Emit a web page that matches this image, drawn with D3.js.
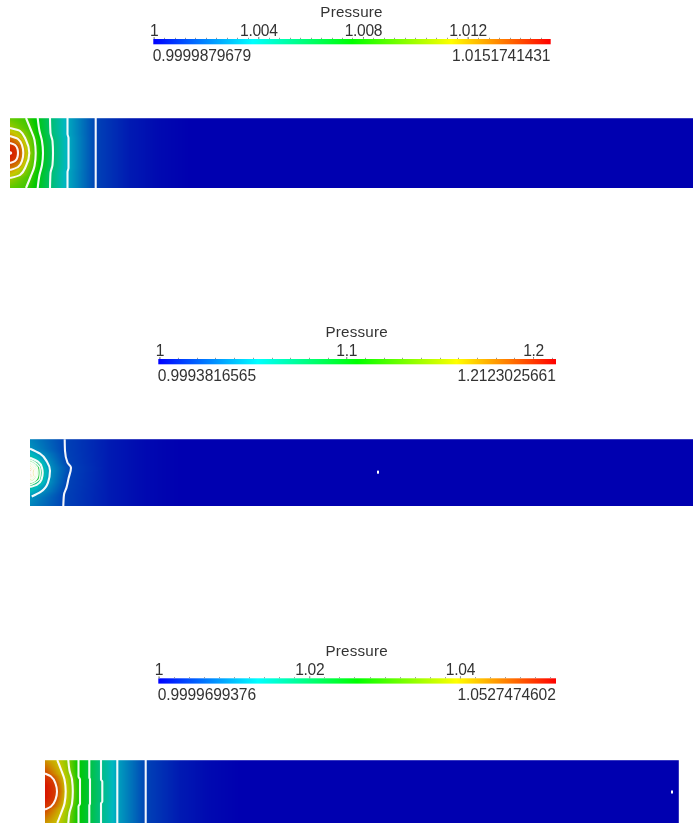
<!DOCTYPE html>
<html><head><meta charset="utf-8">
<script src="https://cdn.jsdelivr.net/npm/d3@7"></script>
<style>html,body{margin:0;padding:0;background:#fff;overflow:hidden}svg{display:block;filter:blur(0.4px)}</style>
</head><body><svg id="c" width="693" height="823"></svg>
<script>
// Legend values
const legendTitle = "Pressure";
const minValues = [0.9999879679, 0.9993816565, 0.9999699376];
const maxValues = [1.0151741431, 1.2123025661, 1.0527474602];
const minLabels = ["0.9999879679", "0.9993816565", "0.9999699376"];
const maxLabels = ["1.0151741431", "1.2123025661", "1.0527474602"];
const majorTicks = [[1, 1.004, 1.008, 1.012], [1, 1.1, 1.2], [1, 1.02, 1.04]];
const minorStep = [0.0004, 0.01, 0.002];
const tickFormats = [".3f", ".1f", ".2f"];

// Colour map positions (normalised pressure)
const colorStops = [0, 0.25, 0.5, 0.75, 1];
const legendColors = ["#0000ff", "#00ffff", "#00ff00", "#ffff00", "#ff0000"];
const fieldColors = ["#0000b0", "#00b8c0", "#00c800", "#c8c800", "#d81400"];

// Field extents, in lengths along the channel
const lengths = [68.3, 66.3, 63.4];
const halfHeights = [3.5, 3.35, 3.15];
const tailStops = [[[12,0.035],[15,0.012],[18,0]], [[8,0.035],[11.5,0.012],[15,0]], [[13.5,0.035],[16.5,0.012],[19.5,0]]];

// Isolines: normalised level, then [distance, height] points
const levels1 = [0.09, 0.23, 0.36, 0.47, 0.58, 0.7, 0.83, 0.95, 0.99];
const lines1 = [
  [[8.57,-3.5],[8.57,3.5]],
  [[5.75,-3.5],[5.75,-1.9],[5.85,-1.5],[5.85,1.5],[5.75,1.9],[5.75,3.5]],
  [[4.0,-3.5],[4.05,-2],[4.25,-1.2],[4.3,0],[4.25,1.2],[4.05,2],[4.0,3.5]],
  [[2.77,-3.5],[2.95,-2.2],[3.2,-1.2],[3.3,0],[3.2,1.2],[2.95,2.2],[2.77,3.5]],
  [[1.6,-3.5],[2.05,-2.4],[2.45,-1.3],[2.57,0],[2.45,1.3],[2.05,2.4],[1.6,3.5]],
  [[0,-2.5],[1.0,-2.2],[1.6,-1.3],[1.93,0],[1.6,1.3],[1.0,2.2],[0,2.5]],
  [[0,-1.7],[0.8,-1.4],[1.2,-0.8],[1.33,0],[1.2,0.8],[0.8,1.4],[0,1.7]],
  [[0,-1.0],[0.5,-0.8],[0.75,-0.4],[0.8,0],[0.75,0.4],[0.5,0.8],[0,1.0]],
  [[0,-0.12],[0.12,0],[0,0.12]]
];
const edge1 = [[-3.5,0.62],[-2.5,0.7],[-1.7,0.83],[-1.0,0.95],[-0.12,0.99],[0,1],[0.12,0.99],[1.0,0.95],[1.7,0.83],[2.5,0.7],[3.5,0.62]];

const levels2 = [0.09, 0.2, 0.3, 0.42, 0.5, 0.58, 0.66, 0.74, 0.8, 0.86, 0.92];
const lines2 = [
  [[3.47,-3.35],[3.5,-2.2],[3.75,-1.0],[4.1,-0.5],[3.85,0.6],[3.65,1.5],[3.4,2.2],[3.33,3.35]],
  [[0,-2.4],[1.0,-1.9],[1.7,-1.1],[2.0,-0.2],[1.8,1.0],[1.1,1.9],[0.17,2.4]],
  [[0,-1.5],[0.8,-1.1],[1.2,-0.5],[1.27,0],[1.15,0.7],[0.7,1.2],[0,1.45]],
  [[0,-1.3],[0.65,-0.9],[1.0,-0.4],[1.02,0],[0.95,0.6],[0.5,1.0],[0,1.25]],
  [[0,-1.1],[0.5,-0.8],[0.78,-0.3],[0.8,0.1],[0.72,0.5],[0.4,0.88],[0,1.05]],
  [[0,-1.0],[0.42,-0.7],[0.68,-0.2],[0.68,0.2],[0.45,0.75],[0,0.95]],
  [[0,-0.85],[0.36,-0.6],[0.55,-0.2],[0.55,0.2],[0.36,0.6],[0,0.8]],
  [[0,-0.7],[0.28,-0.5],[0.44,-0.15],[0.44,0.15],[0.28,0.5],[0,0.65]],
  [[0,-0.55],[0.2,-0.4],[0.3,0],[0.2,0.4],[0,0.55]],
  [[0,-0.4],[0.12,-0.25],[0.18,0],[0.12,0.25],[0,0.4]],
  [[0,-0.2],[0.08,0],[0,0.2]]
];
const edge2 = [[-3.35,0.18],[-2.4,0.2],[-1.5,0.3],[-1.0,0.58],[-0.55,0.8],[0,1],[0.55,0.8],[0.95,0.58],[1.45,0.3],[2.4,0.2],[3.35,0.18]];

const levels3 = [0.09, 0.22, 0.33, 0.42, 0.5, 0.66, 0.76, 0.94];
const lines3 = [
  [[10.07,-3.15],[10.07,3.15]],
  [[7.23,-3.15],[7.23,3.15]],
  [[5.6,-3.15],[5.6,-1.2],[5.73,-1.0],[5.73,1.0],[5.6,1.2],[5.6,3.15]],
  [[4.43,-3.15],[4.43,-1.4],[4.5,-1.2],[4.5,1.2],[4.43,1.4],[4.43,3.15]],
  [[3.35,-3.15],[3.35,-1.5],[3.5,-1.2],[3.5,1.2],[3.35,1.5],[3.35,3.15]],
  [[2.33,-3.15],[2.45,-2.1],[2.7,-1.2],[2.78,0],[2.7,1.2],[2.45,2.1],[2.33,3.15]],
  [[1.23,-3.15],[1.6,-2.2],[1.95,-1.2],[2.07,0],[1.95,1.2],[1.6,2.2],[1.23,3.15]],
  [[0,-1.8],[0.6,-1.5],[1.05,-0.8],[1.2,0],[1.05,0.8],[0.6,1.5],[0,1.8]]
];
const edge3 = [[-3.15,0.82],[-1.8,0.94],[-0.6,1],[0.6,1],[1.8,0.94],[3.15,0.82]];

// Isolated single-cell peaks: [distance, height]
const specks = [[], [[34.8,-0.05]], [[62.7,0.05]]];

const allLevels = [levels1, levels2, levels3];
const allLines = [lines1, lines2, lines3];
const allEdges = [edge1, edge2, edge3];

// Layout
const legendX = [[153.3,550.7],[158.3,556],[158.3,556]];
const legendBarY = [39,359,678.3];
const barH = 5.3;
const fieldX = [[10,693],[30,693],[45,679]];
const fieldY = [[118,188],[439.3,506],[760,823]];
const font = "'Liberation Sans', Arial, sans-serif";
const textColor = "#333";

const svg = d3.select("#c");
const defs = svg.append("defs");
const legendColor = d3.scaleLinear().domain(colorStops).range(legendColors);
const fieldColor = d3.scaleLinear().domain(colorStops).range(fieldColors).clamp(true);

defs.append("linearGradient").attr("id","lut").selectAll("stop").data(colorStops).join("stop")
  .attr("offset",d=>d).attr("stop-color",d=>legendColor(d));

minValues.forEach((mn,i)=>{
  const g = svg.append("g");
  const x = d3.scaleLinear().domain([mn,maxValues[i]]).range(legendX[i]);
  const by = legendBarY[i];
  g.append("rect").attr("x",legendX[i][0]).attr("y",by).attr("width",legendX[i][1]-legendX[i][0]).attr("height",barH).attr("fill","url(#lut)");
  g.append("text").attr("x",(legendX[i][0]+legendX[i][1])/2-0.5).attr("y",by-22.3).attr("text-anchor","middle")
    .attr("font-family",font).attr("font-size",15.2).attr("fill",textColor).attr("letter-spacing",0.2).text(legendTitle);
  const major = d3.axisTop(x).tickValues(majorTicks[i]).tickSize(2).tickPadding(1.3).tickFormat(d=>d===1?"1":d3.format(tickFormats[i])(d));
  const ag = g.append("g").attr("transform",`translate(0,${by})`).call(major);
  ag.select(".domain").remove();
  ag.selectAll("line").attr("stroke","#777");
  ag.selectAll("text").attr("font-family",font).attr("font-size",15.6).attr("fill",textColor).style("letter-spacing","-0.3px");
  const k0 = Math.ceil((mn-1)/minorStep[i]), k1 = Math.floor((maxValues[i]-1)/minorStep[i]);
  const minor = d3.range(k0,k1+1).map(k=>1+k*minorStep[i]);
  g.selectAll(".minor").data(minor).join("rect").attr("class","minor")
    .attr("x",d=>Math.round(x(d))).attr("y",by-1.2).attr("width",1).attr("height",1.2).attr("fill","#999");
  g.append("text").attr("x",legendX[i][0]-0.6).attr("y",by+22).attr("font-family",font).attr("font-size",15.6).attr("fill",textColor).style("letter-spacing","-0.12px").text(minLabels[i]);
  g.append("text").attr("x",legendX[i][1]-0.3).attr("y",by+22).attr("text-anchor","end").attr("font-family",font).attr("font-size",15.6).attr("fill",textColor).style("letter-spacing","-0.12px").text(maxLabels[i]);
});

allLines.forEach((lines,i)=>{
  const g = svg.append("g");
  const L = lengths[i], H = halfHeights[i];
  const x = d3.scaleLinear().domain([0,L]).range(fieldX[i]);
  const y = d3.scaleLinear().domain([-H,H]).range(fieldY[i]);
  const edge = d3.scaleLinear().domain(allEdges[i].map(d=>d[0])).range(allEdges[i].map(d=>d[1])).clamp(true);
  const crossers = lines.map((pts,j)=>({t:allLevels[i][j],
    lo:pts[0][1],hi:pts[pts.length-1][1],
    f:d3.scaleLinear().domain(pts.map(p=>p[1])).range(pts.map(p=>p[0]))}));
  const px0 = Math.round(fieldX[i][0]), py0 = Math.round(fieldY[i][0]), py1 = Math.round(fieldY[i][1]);
  const tailEnd = tailStops[i][tailStops[i].length-1][0];
  const pxTail = Math.ceil(x(tailEnd));
  g.append("rect").attr("x",px0).attr("y",py0).attr("width",fieldX[i][1]-px0).attr("height",py1-py0).attr("fill",fieldColor(0));
  const cells = [];
  for (let py=py0; py<py1; py++){
    const v = y.invert(py+0.5);
    const stops = [[0,edge(v)]];
    crossers.filter(c=>v>=c.lo && v<=c.hi).map(c=>[c.f(v),c.t]).filter(s=>s[0]>0.02).sort((a,b)=>a[0]-b[0]).forEach(s=>stops.push(s));
    tailStops[i].forEach(s=>stops.push(s));
    const prof = d3.scaleLinear().domain(stops.map(s=>s[0])).range(stops.map(s=>s[1])).clamp(true);
    for (let px=px0; px<pxTail; px++) cells.push({px,py,t:prof(x.invert(px+0.5))});
  }
  g.selectAll(".c").data(cells).join("rect").attr("class","c")
    .attr("x",d=>d.px).attr("y",d=>d.py).attr("width",1).attr("height",1)
    .attr("shape-rendering","crispEdges").attr("fill",d=>fieldColor(d.t));
  g.append("rect").attr("x",px0).attr("y",py0).attr("width",fieldX[i][1]-px0).attr("height",1).attr("fill","#fff").attr("opacity",0.22);
  if (i===2) g.append("rect").attr("x",fieldX[i][1]-1).attr("y",py0).attr("width",1).attr("height",py1-py0).attr("fill","#fff").attr("opacity",0.2);
  const lineGen = d3.line().x(p=>x(p[0])).y(p=>y(p[1])).curve(d3.curveMonotoneY);
  g.selectAll(".iso").data(lines).join("path").attr("class","iso")
    .attr("d",lineGen).attr("fill","none").attr("stroke","#fff").attr("stroke-width",d=>i===1&&lines.indexOf(d)>2?1.6:2.1).attr("stroke-opacity",0.95);
  g.selectAll(".sp").data(specks[i]).join("rect").attr("class","sp")
    .attr("x",d=>x(d[0])-1).attr("y",d=>y(d[1])-1.5).attr("width",2).attr("height",3).attr("fill","#fff");
});
</script></body></html>
